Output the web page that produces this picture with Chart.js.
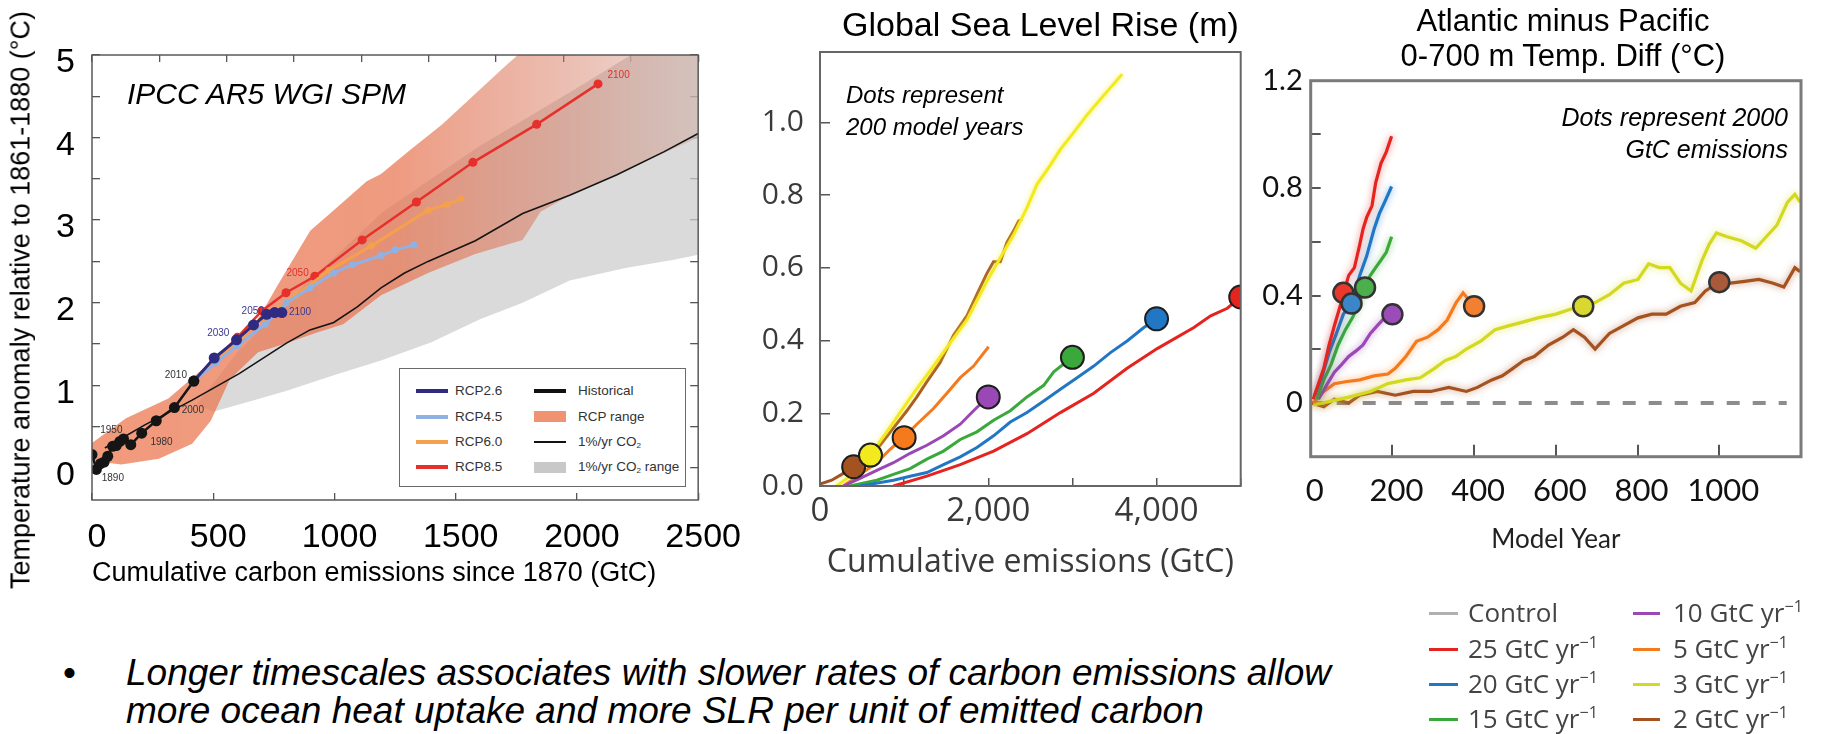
<!DOCTYPE html>
<html lang="en">
<head>
<meta charset="utf-8">
<title>Cumulative emissions, warming, sea level and basin temperature contrast</title>
<script src="https://cdn.jsdelivr.net/npm/chart.js@4.4.1/dist/chart.umd.min.js"></script>
<style>
  html, body { margin: 0; padding: 0; background: #fff; }
  body { position: relative; width: 1829px; height: 734px; overflow: hidden;
         font-family: "Liberation Sans", Arial, sans-serif; color: #000; }
  canvas { position: absolute; top: 0; }
  .txt { position: absolute; white-space: nowrap; }
  .it { font-style: italic; }
  .sw { position: absolute; }
  .rate { position: absolute; white-space: nowrap; font-family: "Open Sans", sans-serif;
          font-size: 26px; line-height: 1; color: #444; }
  .rate sup { font-size: 0.62em; line-height: 0; vertical-align: 0.6em; }
  .lg { position: absolute; white-space: nowrap; font-size: 13.5px; line-height: 1; color: #333; }
  .lg sub { font-size: 0.6em; line-height: 0; vertical-align: -0.25em; }
</style>
</head>
<body>
<canvas id="warming" width="760" height="600" style="left:0"></canvas>
<canvas id="sealevel" width="502" height="600" style="left:758px"></canvas>
<canvas id="basin" width="569" height="600" style="left:1260px"></canvas>

<div class="txt" style="left:21px;top:300px;font-size:27px;line-height:1;transform:translate(-50%,-50%) rotate(-90deg);">Temperature anomaly relative to 1861-1880 (°C)</div>
<div class="txt it" style="left:127px;top:79px;font-size:30px;line-height:1;">IPCC AR5 WGI SPM</div>
<div id="rcpLegend" style="position:absolute;left:399px;top:368px;width:287px;height:119px;box-sizing:border-box;border:1px solid #6a6a6a;background:#fff;"></div>

<div class="txt" style="left:842px;top:7px;font-size:34px;line-height:1;">Global Sea Level Rise (m)</div>
<div class="txt it" style="left:846px;top:79px;font-size:24px;line-height:32px;">Dots represent<br>200 model years</div>

<div class="txt" style="left:1313px;top:3px;width:500px;text-align:center;font-size:31px;line-height:35px;">Atlantic minus Pacific<br>0-700 m Temp. Diff (°C)</div>
<div class="txt it" style="right:41px;top:101px;text-align:right;font-size:25px;line-height:32px;">Dots represent 2000<br>GtC emissions</div>

<div id="rateLegend"></div>

<div class="txt" style="left:63px;top:654px;font-size:37px;line-height:38px;">&bull;</div>
<div class="txt it" style="left:126px;top:654px;font-size:37px;line-height:38px;">Longer timescales associates with slower rates of carbon emissions allow<br>more ocean heat uptake and more SLR per unit of emitted carbon</div>

<script>
// ---------------- Left panel: warming vs cumulative carbon (GtC, °C) ----------------
const histGtC   = [0, 18, 35, 50, 65, 85, 100, 115, 130, 160, 205, 265, 340, 420];
const histTemp  = [0.16, -0.02, 0.05, 0.07, 0.14, 0.26, 0.27, 0.32, 0.35, 0.28, 0.42, 0.57, 0.73, 1.05];
const rcp26GtC  = [420, 504, 596, 666, 720, 753, 783];
const rcp26Temp = [1.05, 1.33, 1.55, 1.73, 1.86, 1.88, 1.88];
const rcp45GtC  = [420, 510, 600, 715, 802, 900, 997, 1075, 1192, 1250, 1328];
const rcp45Temp = [1.05, 1.27, 1.48, 1.74, 2.00, 2.18, 2.36, 2.46, 2.57, 2.64, 2.70];
const rcp60GtC  = [420, 505, 600, 700, 841, 977, 1153, 1386, 1464, 1522];
const rcp60Temp = [1.05, 1.28, 1.52, 1.80, 2.09, 2.39, 2.69, 3.12, 3.19, 3.26];
const rcp85GtC  = [420, 505, 600, 700, 800, 919, 1114, 1338, 1571, 1834, 2087];
const rcp85Temp = [1.05, 1.30, 1.58, 1.90, 2.12, 2.32, 2.76, 3.22, 3.70, 4.16, 4.65];
const pctGtC    = [53, 218, 413, 607, 802, 899, 997, 1094, 1192, 1289, 1386, 1581, 1776, 1970, 2165, 2360, 2500];
const pctTemp   = [0.24, 0.52, 0.82, 1.14, 1.51, 1.67, 1.76, 1.95, 2.18, 2.36, 2.50, 2.75, 3.08, 3.30, 3.55, 3.83, 4.05];
// RCP range envelope (upper and lower edges)
const rcpHiGtC  = [0, 140, 315, 490, 570, 666, 763, 900, 997, 1133, 1192, 1308, 1445, 1581, 1698, 1756, 2500];
const rcpHiTemp = [0.30, 0.60, 0.84, 1.28, 1.50, 1.70, 2.20, 2.87, 3.12, 3.47, 3.56, 3.84, 4.16, 4.53, 4.85, 5.00, 5.40];
const rcpLoGtC  = [0, 14, 121, 276, 413, 490, 568, 685, 802, 919, 1036, 1192, 1386, 1581, 1776, 1850, 2000, 2200, 2500];
const rcpLoTemp = [0.08, 0.08, 0.04, 0.11, 0.29, 0.57, 1.07, 1.40, 1.51, 1.63, 1.74, 2.09, 2.36, 2.59, 2.76, 3.10, 3.35, 3.60, 4.00];
// 1%/yr CO2 range envelope
const pctHiGtC  = [430, 600, 800, 1000, 1200, 1400, 1600, 1800, 2000, 2250, 2500];
const pctHiTemp = [0.76, 1.40, 2.00, 2.55, 3.10, 3.50, 3.90, 4.25, 4.60, 5.05, 5.50];
const pctLoGtC  = [430, 500, 646, 800, 997, 1192, 1400, 1600, 1776, 1970, 2200, 2400, 2500];
const pctLoTemp = [0.76, 0.68, 0.80, 0.93, 1.12, 1.30, 1.52, 1.80, 2.00, 2.27, 2.42, 2.52, 2.58];
// year tags written next to the trajectories
const tagText   = ['1890', '1950', '1980', '2000', '2010', '2030', '2050', '2100', '2050', '2100'];
const tagSeries = ['hist', 'hist', 'hist', 'hist', 'hist', 'rcp26', 'rcp26', 'rcp26', 'rcp85', 'rcp85'];
const tagGtC    = [40, 34, 241, 370, 300, 475, 617, 812, 802, 2126];
const tagTemp   = [-0.13, 0.46, 0.31, 0.70, 1.12, 1.63, 1.90, 1.88, 2.36, 4.76];
const warmingXTicks = [0, 500, 1000, 1500, 2000, 2500];

// ---------------- Middle panel: sea level rise vs cumulative emissions (GtC, m) ----------------
const slr2GtC   = [0, 139, 258, 397, 556, 714, 873, 1032, 1151, 1270, 1428, 1587, 1746, 1865, 1984, 2063, 2143, 2222, 2301, 2361, 2400];
const slr2M     = [0.005, 0.016, 0.032, 0.053, 0.080, 0.112, 0.160, 0.207, 0.245, 0.287, 0.340, 0.415, 0.468, 0.527, 0.585, 0.617, 0.617, 0.670, 0.702, 0.729, 0.734];
const slr3GtC   = [198, 357, 476, 595, 794, 952, 1111, 1349, 1547, 1746, 1984, 2143, 2301, 2460, 2579, 2738, 2857, 3016, 3174, 3333, 3452, 3591];
const slr3M     = [0, 0.027, 0.059, 0.085, 0.149, 0.202, 0.255, 0.330, 0.394, 0.457, 0.564, 0.628, 0.691, 0.766, 0.830, 0.883, 0.926, 0.973, 1.021, 1.064, 1.096, 1.133];
const slr5GtC   = [278, 476, 675, 833, 992, 1151, 1349, 1508, 1667, 1825, 2004];
const slr5M     = [0, 0.032, 0.064, 0.101, 0.133, 0.170, 0.213, 0.255, 0.298, 0.330, 0.383];
const slr10GtC  = [278, 476, 675, 873, 1071, 1270, 1468, 1667, 1825, 1996];
const slr10M    = [0, 0.021, 0.043, 0.064, 0.090, 0.112, 0.138, 0.170, 0.207, 0.245];
const slr15GtC  = [357, 675, 873, 1071, 1270, 1468, 1667, 1865, 2063, 2262, 2460, 2659, 2778, 2996];
const slr15M    = [0, 0.016, 0.032, 0.048, 0.074, 0.096, 0.128, 0.149, 0.181, 0.207, 0.245, 0.277, 0.314, 0.354];
const slr20GtC  = [476, 873, 1071, 1270, 1468, 1667, 1865, 2063, 2262, 2460, 2659, 2857, 3055, 3254, 3452, 3650, 3849, 4008];
const slr20M    = [0, 0.016, 0.027, 0.037, 0.059, 0.080, 0.106, 0.138, 0.176, 0.202, 0.234, 0.266, 0.298, 0.330, 0.367, 0.399, 0.436, 0.460];
const slr25GtC  = [873, 1270, 1667, 2063, 2460, 2857, 3254, 3650, 4008, 4444, 4643, 4841, 5000];
const slr25M    = [0, 0.027, 0.059, 0.096, 0.144, 0.202, 0.255, 0.324, 0.378, 0.436, 0.468, 0.489, 0.520];
// markers after 200 model years
const slrDotGtC = [400, 600, 1000, 2000, 3000, 4000, 5000];
const slrDotM   = [0.053, 0.085, 0.133, 0.245, 0.354, 0.460, 0.520];
const slrXTicks = ['0', '2,000', '4,000'];

// ---------------- Right panel: Atlantic minus Pacific 0-700 m temperature (model year, °C) ----------------
const dT25Year = [6, 19, 32, 45, 58, 72, 80, 93, 107, 120, 128, 137, 150, 159, 172, 185, 198];
const dT25     = [0.014, 0.072, 0.129, 0.216, 0.288, 0.360, 0.406, 0.475, 0.504, 0.590, 0.647, 0.691, 0.734, 0.820, 0.892, 0.935, 0.993];
const dT20Year = [10, 28, 45, 63, 80, 100, 120, 137, 155, 168, 181, 198];
const dT20     = [0.029, 0.101, 0.187, 0.259, 0.331, 0.370, 0.475, 0.547, 0.647, 0.705, 0.748, 0.806];
const dT15Year = [15, 32, 50, 67, 85, 102, 120, 133, 146, 159, 172, 185, 198];
const dT15     = [0.014, 0.086, 0.144, 0.216, 0.273, 0.317, 0.374, 0.435, 0.475, 0.504, 0.532, 0.561, 0.619];
const dT10Year = [19, 41, 58, 76, 93, 111, 128, 146, 163, 181, 201];
const dT10     = [0.014, 0.072, 0.115, 0.144, 0.173, 0.194, 0.216, 0.259, 0.288, 0.317, 0.334];
const dT5Year  = [6, 32, 58, 85, 120, 155, 189, 207, 233, 259, 286, 312, 334, 356, 373, 399];
const dT5      = [0, 0.043, 0.072, 0.079, 0.086, 0.101, 0.108, 0.129, 0.173, 0.230, 0.245, 0.273, 0.309, 0.374, 0.410, 0.360];
const dT3Year  = [6, 50, 93, 146, 189, 233, 268, 303, 329, 355, 381, 416, 451, 486, 521, 556, 600, 643, 665, 696, 731, 766, 801, 827, 853, 879, 905, 931, 958, 975, 993, 1019, 1054, 1089, 1115, 1141, 1167, 1185, 1198];
const dT3      = [-0.007, 0.007, 0.022, 0.043, 0.072, 0.086, 0.094, 0.129, 0.158, 0.173, 0.201, 0.230, 0.273, 0.288, 0.302, 0.317, 0.331, 0.353, 0.364, 0.374, 0.403, 0.446, 0.460, 0.518, 0.504, 0.504, 0.446, 0.417, 0.532, 0.590, 0.633, 0.619, 0.604, 0.576, 0.619, 0.662, 0.748, 0.777, 0.748];
const dT2Year  = [2, 32, 58, 93, 120, 163, 207, 251, 294, 338, 381, 408, 443, 469, 495, 521, 547, 582, 617, 643, 670, 696, 731, 766, 801, 835, 870, 905, 940, 966, 1000, 1027, 1062, 1097, 1132, 1158, 1185, 1198];
const dT2      = [0, -0.014, 0.014, 0, 0.029, 0.043, 0.029, 0.043, 0.043, 0.058, 0.043, 0.058, 0.086, 0.101, 0.129, 0.158, 0.173, 0.216, 0.245, 0.273, 0.245, 0.201, 0.259, 0.288, 0.317, 0.331, 0.331, 0.360, 0.374, 0.417, 0.450, 0.446, 0.453, 0.460, 0.446, 0.432, 0.504, 0.489];
const controlYear = [0, 1165];
const controlT    = [0, 0];
// markers at 2000 GtC emitted
const dTDotYear = [80, 100, 133, 200, 400, 667, 1000];
const dTDot     = [0.41, 0.37, 0.43, 0.33, 0.36, 0.36, 0.45];

// legend entries
const rateNames = ['Control', '25 GtC yr<sup>−1</sup>', '20 GtC yr<sup>−1</sup>', '15 GtC yr<sup>−1</sup>',
                   '10 GtC yr<sup>−1</sup>', '5 GtC yr<sup>−1</sup>', '3 GtC yr<sup>−1</sup>', '2 GtC yr<sup>−1</sup>'];
const rcpLegendNames = ['RCP2.6', 'RCP4.5', 'RCP6.0', 'RCP8.5',
                        'Historical', 'RCP range', '1%/yr CO<sub>2</sub>', '1%/yr CO<sub>2</sub> range'];

// ---------------- styling ----------------
const C = {
  rcp26: '#2f2b80', rcp45: '#8fb2e4', rcp60: '#f4a04c', rcp85: '#e6302b', hist: '#151515',
  r25: '#e5231f', r20: '#2277c4', r15: '#3ba83b', r10: '#9a48b5', r5: '#f57a1c', r3: '#f3ea1e', r3b: '#d3d820', r2: '#a4521f',
  control: '#8c8c8c'
};
const tagColors = { hist: '#333', rcp26: '#3b3890', rcp85: '#e0302c' };

const pts = (xs, ys) => xs.map((x, i) => ({ x, y: ys[i] }));
const innerGrid = (len, color, w) => ({ display: true, drawOnChartArea: false, drawTicks: true,
                                       tickLength: -len, color, lineWidth: w || 1.3 });

// box around the plotting area
const framePlugin = {
  id: 'frame',
  afterDatasetsDraw(chart, args, opts) {
    const { ctx, chartArea: a } = chart;
    ctx.save();
    ctx.strokeStyle = opts.color || '#555';
    ctx.lineWidth = opts.width || 1.5;
    ctx.strokeRect(a.left, a.top, a.right - a.left, a.bottom - a.top);
    ctx.restore();
  }
};

// soft glow under selected lines
const haloPlugin = {
  id: 'halo',
  beforeDatasetDraw(chart, args) {
    const ds = chart.data.datasets[args.index];
    if (ds.halo) { chart.ctx.save(); chart.ctx.shadowColor = ds.halo; chart.ctx.shadowBlur = ds.haloBlur || 6; }
  },
  afterDatasetDraw(chart, args) {
    const ds = chart.data.datasets[args.index];
    if (ds.halo) chart.ctx.restore();
  }
};

// small year tags on the warming panel
const yearTagPlugin = {
  id: 'yearTags',
  afterDatasetsDraw(chart) {
    const { ctx, scales: { x, y } } = chart;
    ctx.save();
    ctx.font = '10px "Liberation Sans", Arial, sans-serif';
    ctx.textBaseline = 'middle';
    ctx.textAlign = 'left';
    tagText.forEach((t, i) => {
      ctx.fillStyle = tagColors[tagSeries[i]];
      ctx.fillText(t, x.getPixelForValue(tagGtC[i]), y.getPixelForValue(tagTemp[i]));
    });
    ctx.restore();
  }
};

function salmonFill(c) {
  const area = c.chart.chartArea;
  if (!area) return 'rgba(236,120,80,0.72)';
  const g = c.chart.ctx.createLinearGradient(area.left, 0, area.right, 0);
  g.addColorStop(0, 'rgba(236,118,78,0.74)');
  g.addColorStop(0.5, 'rgba(232,116,80,0.72)');
  g.addColorStop(0.8, 'rgba(212,116,90,0.45)');
  g.addColorStop(1, 'rgba(195,125,105,0.26)');
  return g;
}

const noLine = 'rgba(0,0,0,0)';
function trace(label, xs, ys, color, width, radius, order) {
  return { label, data: pts(xs, ys), borderColor: color, backgroundColor: color, borderWidth: width,
           pointRadius: radius, pointBorderWidth: 0, pointBackgroundColor: color, order, fill: false };
}

function drawAll() {
  Chart.defaults.font.family = '"Liberation Sans", Arial, sans-serif';

  // ---------- warming panel ----------
  new Chart(document.getElementById('warming'), {
    type: 'line',
    data: {
      datasets: [
        trace('Historical', histGtC, histTemp, C.hist, 2.5, 5.5, 0),
        trace('RCP2.6', rcp26GtC, rcp26Temp, C.rcp26, 3, 5.5, 1),
        trace('RCP4.5', rcp45GtC, rcp45Temp, C.rcp45, 3, 3.5, 2),
        trace('RCP6.0', rcp60GtC, rcp60Temp, C.rcp60, 3, 3.5, 3),
        trace('RCP8.5', rcp85GtC, rcp85Temp, C.rcp85, 2.5, 4.5, 4),
        trace('1%/yr CO2', pctGtC, pctTemp, C.hist, 1.6, 0, 5),
        { label: 'RCP range', data: pts(rcpHiGtC, rcpHiTemp), borderColor: noLine, borderWidth: 0,
          pointRadius: 0, fill: '+1', backgroundColor: salmonFill, order: 6 },
        { label: 'RCP range (lower)', data: pts(rcpLoGtC, rcpLoTemp), borderColor: noLine, borderWidth: 0,
          pointRadius: 0, fill: false, order: 7 },
        { label: '1%/yr CO2 range', data: pts(pctHiGtC, pctHiTemp), borderColor: noLine, borderWidth: 0,
          pointRadius: 0, fill: '+1', backgroundColor: 'rgba(205,205,205,0.75)', order: 8 },
        { label: '1%/yr CO2 range (lower)', data: pts(pctLoGtC, pctLoTemp), borderColor: noLine, borderWidth: 0,
          pointRadius: 0, fill: false, order: 9 }
      ]
    },
    options: {
      responsive: false, animation: false, events: [],
      layout: { padding: { left: 0, top: 55, right: 46, bottom: 0 } },
      plugins: { legend: { display: false }, tooltip: { enabled: false }, frame: { color: '#5a5a5a', width: 1.5 } },
      scales: {
        x: { type: 'linear', position: 'bottom', min: 0, max: 2500,
             afterBuildTicks: s => { s.ticks = warmingXTicks.map(v => ({ value: v })); },
             ticks: { autoSkip: false, maxRotation: 0, padding: 24, labelOffset: 5, color: '#000',
                      font: { size: 34 }, callback: v => String(v) },
             grid: innerGrid(7, '#555'), border: { display: false },
             title: { display: true, text: 'Cumulative carbon emissions since 1870 (GtC)', align: 'start',
                      color: '#000', font: { size: 27 }, padding: { top: 0, bottom: 10 } },
             afterFit: s => { s.height = 100; } },
        xCO2: { type: 'linear', position: 'top', min: 0, max: 9166.67,
                ticks: { display: false, stepSize: 1000, includeBounds: false },
                grid: innerGrid(7, '#555'), border: { display: false },
                afterFit: s => { s.height = 0; } },
        y: { type: 'linear', position: 'left', min: -0.39, max: 5,
             ticks: { stepSize: 0.5, includeBounds: false, autoSkip: false, padding: 25, labelOffset: 8,
                      color: '#000', font: { size: 34 }, callback: v => Number.isInteger(v) ? String(v) : '' },
             grid: innerGrid(8, '#555'), border: { display: false },
             afterFit: s => { s.width = 92; } },
        yRight: { type: 'linear', position: 'right', min: -0.39, max: 5,
                  ticks: { display: false, stepSize: 0.5, includeBounds: false },
                  grid: innerGrid(8, '#555'), border: { display: false },
                  afterFit: s => { s.width = 0; } }
      }
    },
    plugins: [framePlugin, yearTagPlugin]
  });

  // ---------- sea level panel ----------
  const sansB = '"Open Sans", "Noto Sans", sans-serif';
  new Chart(document.getElementById('sealevel'), {
    type: 'line',
    data: {
      datasets: [
        { label: 'markers', data: pts(slrDotGtC, slrDotM), showLine: false, pointRadius: 11.5,
          pointBackgroundColor: [C.r2, C.r3, C.r5, C.r10, C.r15, C.r20, C.r25],
          pointBorderColor: '#1e1e1e', pointBorderWidth: 2, order: 0 },
        trace('25 GtC/yr', slr25GtC, slr25M, C.r25, 3, 0, 1),
        trace('20 GtC/yr', slr20GtC, slr20M, C.r20, 3, 0, 2),
        trace('15 GtC/yr', slr15GtC, slr15M, C.r15, 3, 0, 3),
        trace('10 GtC/yr', slr10GtC, slr10M, C.r10, 3, 0, 4),
        trace('5 GtC/yr', slr5GtC, slr5M, C.r5, 3, 0, 5),
        Object.assign(trace('3 GtC/yr', slr3GtC, slr3M, C.r3, 3, 0, 6), { halo: 'rgba(245,236,60,0.8)', haloBlur: 5 }),
        trace('2 GtC/yr', slr2GtC, slr2M, C.r2, 3, 0, 7)
      ]
    },
    options: {
      responsive: false, animation: false, events: [],
      layout: { padding: { left: 0, top: 52, right: 19.3, bottom: 0 } },
      plugins: { legend: { display: false }, tooltip: { enabled: false }, frame: { color: '#666', width: 2 } },
      scales: {
        x: { type: 'linear', min: 0, max: 5000,
             ticks: { stepSize: 1000, autoSkip: false, maxRotation: 0, padding: 14, color: '#3a3a3a',
                      font: { family: sansB, size: 33 },
                      callback: v => (v % 2000 === 0 ? slrXTicks[v / 2000] : '') },
             grid: innerGrid(8, '#555', 1.5), border: { display: false },
             title: { display: true, text: 'Cumulative emissions (GtC)', color: '#3a3a3a',
                      font: { family: sansB, size: 32 }, padding: { top: 0, bottom: 18 } },
             afterFit: s => { s.height = 114; } },
        y: { type: 'linear', min: 0, max: 1.194,
             ticks: { stepSize: 0.2, includeBounds: false, autoSkip: false, padding: 26, color: '#3a3a3a',
                      font: { family: sansB, size: 30 }, callback: v => v.toFixed(1) },
             grid: innerGrid(10, '#555', 1.5), border: { display: false },
             afterFit: s => { s.width = 62; } }
      }
    },
    plugins: [framePlugin, haloPlugin]
  });

  // ---------- basin contrast panel ----------
  const sansC = 'Lato, "Open Sans", sans-serif';
  const soft = (d, c) => Object.assign(d, { halo: c, haloBlur: 7 });
  new Chart(document.getElementById('basin'), {
    type: 'line',
    data: {
      datasets: [
        { label: 'markers', data: pts(dTDotYear, dTDot), showLine: false, pointRadius: 10,
          pointBackgroundColor: ['#e8392c', '#3a86c8', '#4bb04b', '#9c4cb8', '#f28030', '#d8d830', '#a85a3a'],
          pointBorderColor: '#333', pointBorderWidth: 2.5, order: 0 },
        soft(trace('25 GtC/yr', dT25Year, dT25, C.r25, 3.2, 0, 1), 'rgba(229,35,31,0.6)'),
        soft(trace('20 GtC/yr', dT20Year, dT20, C.r20, 3.2, 0, 2), 'rgba(34,119,196,0.6)'),
        soft(trace('15 GtC/yr', dT15Year, dT15, C.r15, 3.2, 0, 3), 'rgba(59,168,59,0.6)'),
        soft(trace('10 GtC/yr', dT10Year, dT10, C.r10, 3.2, 0, 4), 'rgba(154,72,181,0.6)'),
        soft(trace('5 GtC/yr', dT5Year, dT5, C.r5, 3.2, 0, 5), 'rgba(245,122,28,0.6)'),
        soft(trace('3 GtC/yr', dT3Year, dT3, C.r3b, 3.2, 0, 6), 'rgba(215,220,40,0.65)'),
        soft(trace('2 GtC/yr', dT2Year, dT2, C.r2, 3.2, 0, 7), 'rgba(164,82,31,0.6)'),
        Object.assign(trace('Control', controlYear, controlT, C.control, 4, 0, 8), { borderDash: [13, 13] })
      ]
    },
    options: {
      responsive: false, animation: false, events: [],
      layout: { padding: { left: 0, top: 80.7, right: 7.5, bottom: 0 } },
      plugins: { legend: { display: false }, tooltip: { enabled: false }, frame: { color: '#7a7a7a', width: 3 } },
      scales: {
        x: { type: 'linear', min: 0, max: 1200,
             ticks: { stepSize: 200, autoSkip: false, maxRotation: 0, padding: 28, labelOffset: 4, color: '#111',
                      font: { family: sansC, size: 31 }, callback: v => (v < 1200 ? String(v) : '') },
             grid: innerGrid(12, '#555', 2), border: { display: false },
             title: { display: true, text: 'Model Year', color: '#222',
                      font: { family: sansC, size: 26 }, padding: { top: 0, bottom: 45 } },
             afterFit: s => { s.height = 143.3; } },
        y: { type: 'linear', min: -0.2, max: 1.2,
             ticks: { stepSize: 0.2, autoSkip: false, padding: 18, color: '#111',
                      font: { family: sansC, size: 29 },
                      callback: v => { const k = Math.round(v * 10); return (k < 0 || k % 4 !== 0) ? '' : (k === 0 ? '0' : (k / 10).toFixed(1)); } },
             grid: innerGrid(10, '#555', 2), border: { display: false },
             afterFit: s => { s.width = 50.7; } }
      }
    },
    plugins: [framePlugin, haloPlugin]
  });

  // ---------- legends ----------
  const rcpLeg = document.getElementById('rcpLegend');
  const rcpSw = [
    { c: C.rcp26, h: 4 }, { c: C.rcp45, h: 4 }, { c: C.rcp60, h: 4 }, { c: C.rcp85, h: 4 },
    { c: '#111', h: 4 }, { c: 'rgba(236,120,80,0.8)', h: 11 }, { c: '#111', h: 2 }, { c: '#c8c8c8', h: 11 }
  ];
  const rowY = [22, 47.6, 73, 98.3];
  rcpLegendNames.forEach((name, i) => {
    const col = i < 4 ? 0 : 1, row = i % 4;
    const sw = document.createElement('div');
    sw.className = 'sw';
    sw.style.cssText = `left:${col ? 134 : 15.5}px;top:${rowY[row] - rcpSw[i].h / 2}px;width:32px;height:${rcpSw[i].h}px;background:${rcpSw[i].c};`;
    rcpLeg.appendChild(sw);
    const t = document.createElement('div');
    t.className = 'lg';
    t.style.left = (col ? 178 : 55) + 'px';
    t.style.top = (rowY[row] - 7) + 'px';
    t.innerHTML = name;
    rcpLeg.appendChild(t);
  });

  const rateLeg = document.getElementById('rateLegend');
  const rateCols = ['#b0b0b0', C.r25, C.r20, C.r15, C.r10, C.r5, C.r3b, C.r2];
  const rateRowY = [613, 649, 684, 719];
  rateNames.forEach((name, i) => {
    const col = i < 4 ? 0 : 1, row = i % 4;
    const sw = document.createElement('div');
    sw.className = 'sw';
    sw.style.cssText = `left:${col ? 1633 : 1429}px;top:${rateRowY[row] - 1.5}px;width:${col ? 27 : 29}px;height:3px;background:${rateCols[i]};`;
    rateLeg.appendChild(sw);
    const t = document.createElement('div');
    t.className = 'rate';
    t.style.left = (col ? 1673 : 1468) + 'px';
    t.style.top = (rateRowY[row] - 13.8) + 'px';
    t.innerHTML = name;
    rateLeg.appendChild(t);
  });
}

if (document.fonts && document.fonts.ready) { document.fonts.ready.then(drawAll); } else { drawAll(); }
</script>
</body>
</html>
